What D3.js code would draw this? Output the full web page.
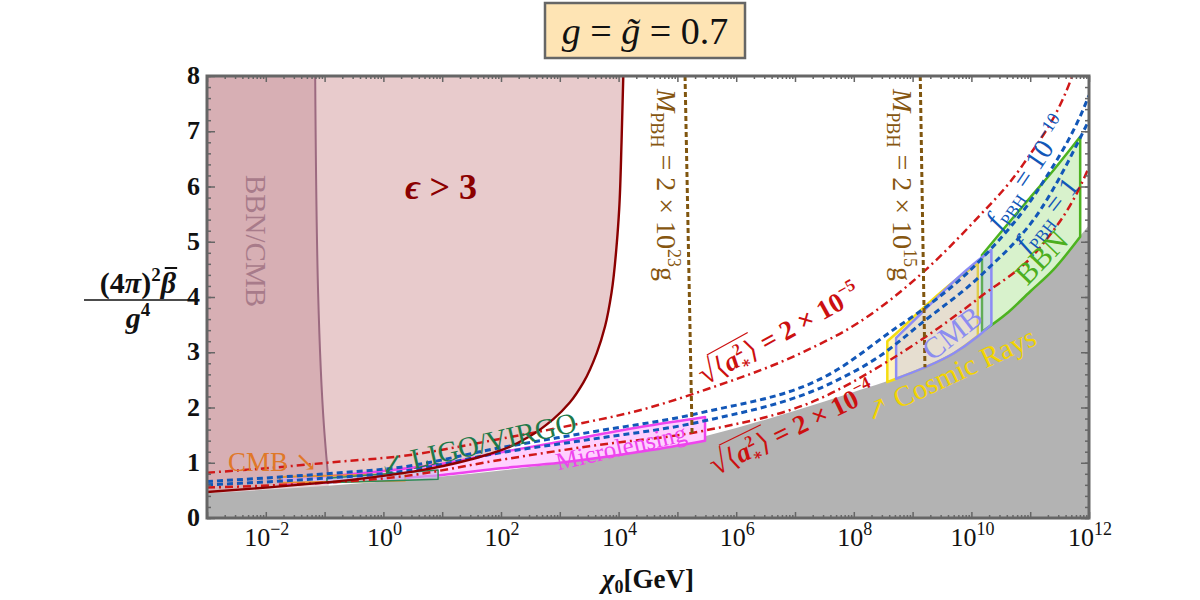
<!DOCTYPE html>
<html>
<head>
<meta charset="utf-8">
<script src="https://cdn.jsdelivr.net/npm/d3@7"></script>
<style>
body { margin: 0; background: #fff; }
text { font-family: "Liberation Serif", "DejaVu Serif", serif; }
</style>
</head>
<body>
<script>
// all curves: [log10(chi0 / GeV), (4pi)^2 beta / g^4]
var grayEdge = [[-3,0.45],[-2,0.51],[-1,0.58],[0,0.66],[1,0.75],[2,0.86],[3,0.99],[4,1.14],[5,1.36],[6,1.63],[7,1.94],[8,2.28],[9,2.65],[10,3.22],[11,4.1],[12,5.3]];
var epsEdge = [[-3,0.47],[-2,0.55],[-0.91,0.65],[0.5,0.84],[1.59,1.09],[2.04,1.24],[2.49,1.48],[2.89,1.79],[3.17,2.09],[3.4,2.45],[3.63,2.99],[3.77,3.47],[3.88,4.08],[3.97,4.98],[4.01,5.59],[4.05,6.8],[4.08,8]];
var bbnCmbEdge = [[-0.93,0],[-0.93,0.62],[-1.01,1.65],[-1.11,4.07],[-1.16,8]];

var redHigh = [[-3,0.82],[-2,0.9],[-0.86,1.01],[0.3,1.12],[1.98,1.43],[3.39,1.72],[4.36,1.95],[5.5,2.33],[7.09,2.98],[8.1,3.55],[9.18,4.45],[10.03,5.35],[10.88,6.4],[11.68,7.9],[11.75,8.1]];
var blueHigh = [[-3,0.66],[-1,0.8],[0.3,0.92],[1.98,1.27],[3.5,1.55],[5.38,1.9],[7.65,2.64],[8.73,3.45],[9.18,3.78],[10.2,4.72],[11.17,6.0],[11.97,7.57],[12,7.65]];
var blueLow = [[-3,0.6],[-1,0.72],[0.3,0.84],[1.98,1.18],[3.5,1.42],[5.38,1.74],[7.65,2.46],[8.4,2.9],[9.18,3.55],[10.2,4.43],[11.17,5.57],[12,7.2]];
var redLow = [[-3,0.55],[-1,0.64],[0.3,0.75],[1.98,1.05],[3.5,1.3],[5.5,1.59],[7.4,2.15],[8.6,2.85],[10.15,4.0],[11.17,4.9],[11.85,6.0],[12,6.35]];

var mpbh23 = [[5.13,8],[5.25,1.5]];
var mpbh15 = [[9.13,8],[9.21,2.73]];

// boxes: [log10 chi0, bottom, top]
var microBox = [[-1.76,0.6,0.68],[0,0.7,0.85],[1,0.78,0.98],[2,0.9,1.19],[3,1.0,1.38],[4.5,1.22,1.67],[5.47,1.4,1.83]];
var cmbLowBox = [[-1.76,0.64,0.74],[0.37,0.68,0.8]];
var ligoBox = [[-0.96,0.64,0.72],[0.93,0.7,0.87]];
var cosmicBox = [[8.57,2.46,3.2],[8.72,2.52,3.34],[9.2,2.72,3.82],[9.7,2.98,4.28],[10.11,3.3,4.6]];
var cmbBox = [[8.72,2.52,3.26],[9.2,2.72,3.76],[9.7,2.98,4.28],[10.1,3.28,4.65],[10.34,3.5,4.85]];
var bbnBox = [[10.18,3.37,4.76],[10.6,3.7,5.3],[11.0,4.1,5.8],[11.4,4.5,6.3],[11.85,5.09,6.9]];

var xDecades = d3.range(-3, 13);
var xLabels = [-2,0,2,4,6,8,10,12];
var yTicks = d3.range(0, 9);

var svg = d3.select("body").append("svg").attr("width", 1200).attr("height", 600);

var x = d3.scaleLog().domain([1e-3, 1e12]).range([207, 1089]);
var y = d3.scaleLinear().domain([0, 8]).range([518, 76]);
var px = function(d){ return x(Math.pow(10, d[0])); };
var py = function(d){ return y(d[1]); };

svg.append("clipPath").attr("id", "plot")
  .append("rect").attr("x", 207).attr("y", 76).attr("width", 882).attr("height", 442);

var plot = svg.append("g").attr("clip-path", "url(#plot)");

// epsilon > 3 region
plot.append("path").datum(epsEdge)
  .attr("d", d3.area().y(py).x0(x(1e-3)).x1(px).curve(d3.curveMonotoneY))
  .attr("fill", "#e8cbcc");

// BBN/CMB region
plot.append("path").datum(bbnCmbEdge)
  .attr("d", d3.area().y(py).x0(x(1e-3)).x1(px).curve(d3.curveMonotoneY))
  .attr("fill", "#b0707f").attr("fill-opacity", 0.3);
plot.append("path").datum(bbnCmbEdge.slice(1))
  .attr("d", d3.line().x(px).y(py).curve(d3.curveMonotoneY))
  .attr("fill", "none").attr("stroke", "#9c6a80").attr("stroke-width", 2);

// excluded gray region
plot.append("path").datum(grayEdge)
  .attr("d", d3.area().x(px).y0(y(0)).y1(py).curve(d3.curveMonotoneX))
  .attr("fill", "#b3b3b3");

var boxArea = d3.area().x(px)
  .y0(function(d){ return y(d[1]); })
  .y1(function(d){ return y(d[2]); })
  .curve(d3.curveMonotoneX);

function box(data, fill, opacity, stroke, sw){
  plot.append("path").datum(data).attr("d", boxArea)
    .attr("fill", fill).attr("fill-opacity", opacity)
    .attr("stroke", stroke).attr("stroke-width", sw).attr("stroke-linejoin", "round");
}
box(microBox, "#ffd0ff", 1, "#ee44ee", 2.5);
box(cmbLowBox, "#c8bce6", 0.8, "#e89030", 2);
box(ligoBox, "#c8bce6", 0.6, "#2e8b57", 1.5);
box(bbnBox, "#d8f2cc", 1, "#4db320", 2.5);
box(cosmicBox, "#fff4c0", 1, "#f5dc10", 2.5);
box(cmbBox, "#9a9aff", 0.25, "#8c8cf5", 2.5);

var curve = d3.line().x(px).y(py).curve(d3.curveMonotoneX);

function dashed(data, color, dash, w){
  plot.append("path").datum(data).attr("d", curve)
    .attr("fill", "none").attr("stroke", color)
    .attr("stroke-width", w).attr("stroke-dasharray", dash);
}
dashed(redHigh, "#d01818", "8,4,2,4", 2.5);
dashed(redLow, "#d01818", "8,4,2,4", 2.5);
dashed(blueHigh, "#1257b8", "6,4", 3);
dashed(blueLow, "#1257b8", "6,4", 3);

var straight = d3.line().x(px).y(py);
[mpbh23, mpbh15].forEach(function(l){
  plot.append("path").datum(l).attr("d", straight)
    .attr("fill", "none").attr("stroke", "#80560f")
    .attr("stroke-width", 3).attr("stroke-dasharray", "5,3");
});

plot.append("path").datum(epsEdge)
  .attr("d", d3.line().x(px).y(py).curve(d3.curveMonotoneY))
  .attr("fill", "none").attr("stroke", "#8b0000").attr("stroke-width", 2.4);

// frame with inward ticks
var xMinor = [];
xDecades.slice(0, -1).forEach(function(k){
  for (var m = 2; m < 10; m++) xMinor.push(m * Math.pow(10, k));
});
var xMajor = xDecades.map(function(k){ return Math.pow(10, k); });
var yMinor = d3.range(0, 8.01, 0.2);

function ticks(axis, tr, vals, size){
  var g = svg.append("g").attr("transform", tr)
    .call(axis.tickValues(vals).tickSize(size).tickFormat(""));
  g.select(".domain").remove();
  g.selectAll("line").attr("stroke", "#666").attr("stroke-width", 1.5);
}
ticks(d3.axisBottom(x), "translate(0,518)", xMajor, -6);
ticks(d3.axisBottom(x), "translate(0,518)", xMinor, -3);
ticks(d3.axisTop(x), "translate(0,76)", xMajor, -6);
ticks(d3.axisTop(x), "translate(0,76)", xMinor, -3);
ticks(d3.axisLeft(y), "translate(207,0)", yTicks, -8);
ticks(d3.axisLeft(y), "translate(207,0)", yMinor, -4);
ticks(d3.axisRight(y), "translate(1089,0)", yTicks, -8);
ticks(d3.axisRight(y), "translate(1089,0)", yMinor, -4);

svg.append("rect").attr("x", 207).attr("y", 76).attr("width", 882).attr("height", 442)
  .attr("fill", "none").attr("stroke", "#666").attr("stroke-width", 3);

// tick labels
xLabels.forEach(function(k){
  var t = svg.append("text").attr("x", x(Math.pow(10, k)) + 1).attr("y", 546)
    .attr("text-anchor", "middle").attr("font-size", 26).attr("fill", "#111");
  t.append("tspan").text("10");
  t.append("tspan").attr("font-size", 18).attr("dy", -11).text(String(k).replace("-", "\u2212"));
});
yTicks.forEach(function(v){
  svg.append("text").attr("x", 200).attr("y", y(v) + 8).attr("text-anchor", "end")
    .attr("font-size", 26).attr("font-weight", "bold").attr("fill", "#111").text(v);
});

// axis titles
var xt = svg.append("text").attr("x", 648).attr("y", 588).attr("text-anchor", "middle")
  .attr("font-size", 27).attr("font-weight", "bold").attr("fill", "#111");
xt.append("tspan").attr("font-style", "italic").text("\u03c7");
xt.append("tspan").attr("font-size", 18).attr("dy", 5).text("0");
xt.append("tspan").attr("dy", -5).text("[GeV]");

var yn = svg.append("text").attr("x", 138).attr("y", 293).attr("text-anchor", "middle")
  .attr("font-size", 30).attr("font-weight", "bold").attr("fill", "#111");
yn.append("tspan").text("(4");
yn.append("tspan").attr("font-style", "italic").text("\u03c0");
yn.append("tspan").text(")");
yn.append("tspan").attr("font-size", 19).attr("dy", -12).text("2");
yn.append("tspan").attr("dy", 12).attr("font-style", "italic").text("\u03b2");
var bb = yn.node().getExtentOfChar(5);
svg.append("line").attr("x1", bb.x + 4).attr("x2", bb.x + bb.width + 1)
  .attr("y1", bb.y + 2).attr("y2", bb.y + 2).attr("stroke", "#111").attr("stroke-width", 2);
svg.append("line").attr("x1", 84).attr("x2", 193).attr("y1", 300).attr("y2", 300)
  .attr("stroke", "#111").attr("stroke-width", 1.5);
var yd = svg.append("text").attr("x", 138).attr("y", 328).attr("text-anchor", "middle")
  .attr("font-size", 30).attr("font-weight", "bold").attr("fill", "#111");
yd.append("tspan").attr("font-style", "italic").text("g");
yd.append("tspan").attr("font-size", 19).attr("dy", -12).text("4");

// title box
svg.append("rect").attr("x", 545).attr("y", 3).attr("width", 200).attr("height", 55)
  .attr("fill", "#fee4b4").attr("stroke", "#666").attr("stroke-width", 2.5);
var tt = svg.append("text").attr("x", 645).attr("y", 44).attr("text-anchor", "middle")
  .attr("font-size", 38).attr("fill", "#111");
tt.append("tspan").attr("font-style", "italic").text("g");
tt.append("tspan").text(" = ");
tt.append("tspan").attr("font-style", "italic").text("g\u0303");
tt.append("tspan").text(" = 0.7");

// in-plot labels (each in its own rotated group)
function label(cx, cy, angle, color, size, weight){
  var g = svg.append("g")
    .attr("transform", "translate(" + cx + "," + cy + ") rotate(" + angle + ")");
  return g.append("text")
    .attr("text-anchor", "middle").attr("dy", "0.35em")
    .attr("font-size", size).attr("font-weight", weight || "normal").attr("fill", color);
}

label(256, 241, 90, "#a87b8a", 29).text("BBN/CMB");

var e = label(441, 186, 0, "#8b0000", 36, "bold");
e.append("tspan").attr("font-style", "italic").text("\u03f5");
e.append("tspan").text(" > 3");

function mLabel(cx, exp){
  var t = label(cx, 185, 90, "#86560f", 28);
  t.append("tspan").attr("font-style", "italic").text("M");
  t.append("tspan").attr("font-size", 18).attr("dy", 6).text("PBH");
  t.append("tspan").attr("dy", -6).text(" = 2 \u00d7 10");
  t.append("tspan").attr("font-size", 18).attr("dy", -11).text(exp);
  t.append("tspan").attr("dy", 11).text("g");
}
mLabel(667, "23");
mLabel(903, "15");

function aLabel(cx, cy, angle, exp){
  var t = label(cx, cy, angle, "#cc1010", 27, "bold");
  t.append("tspan").attr("font-weight", "normal").attr("font-size", 32).text("\u221a");
  t.append("tspan").attr("font-weight", "normal").text("\u27e8");
  t.append("tspan").attr("font-style", "italic").text("a");
  t.append("tspan").attr("font-size", 16).attr("dy", -11).text("2");
  t.append("tspan").attr("font-size", 16).attr("dx", -8).attr("dy", 16).text("\u2217");
  t.append("tspan").attr("font-weight", "normal").attr("dy", -5).text("\u27e9");
  t.append("tspan").text(" = 2 \u00d7 10");
  t.append("tspan").attr("font-size", 17).attr("dy", -12).text(exp);
  // radical vinculum over <a*^2>
  var n = t.node(), r0 = n.getExtentOfChar(0), r1 = n.getExtentOfChar(1), r5 = n.getExtentOfChar(5);
  d3.select(n.parentNode).append("line")
    .attr("x1", r0.x + r0.width - 1).attr("x2", r5.x + r5.width)
    .attr("y1", r0.y + 3).attr("y2", r0.y + 3)
    .attr("stroke", "#cc1010").attr("stroke-width", 1.2);
}
aLabel(779, 334, -29, "\u22125");
aLabel(792, 428, -26, "\u22124");

function fLabel(cx, cy, angle, val, exp){
  var t = label(cx, cy, angle, "#1257b8", 28);
  t.append("tspan").attr("font-style", "italic").text("f");
  t.append("tspan").attr("font-size", 17).attr("dy", 6).text("PBH");
  t.append("tspan").attr("dy", -6).text(" = " + val);
  if (exp) t.append("tspan").attr("font-size", 18).attr("dy", -12).text(exp);
}
fLabel(1027, 172, -56, "10", "\u221210");
fLabel(1046, 214, -52, "1");

label(1041, 257, -46, "#4caf20", 30).text("BBN");
label(952, 333, -38, "#8c8cf0", 30).text("CMB");
label(950, 374, -25, "#f3d400", 29).text("\u2197 Cosmic Rays");
label(621, 447, -13, "#ee44ee", 25).text("Microlensing");
label(478, 444, -13, "#1e7a4a", 29).text("\u2199 LIGO/VIRGO");
svg.append("text").attr("x", 228).attr("y", 471).attr("font-size", 27)
  .attr("fill", "#e07828").text("CMB \u2198");
</script>
</body>
</html>
